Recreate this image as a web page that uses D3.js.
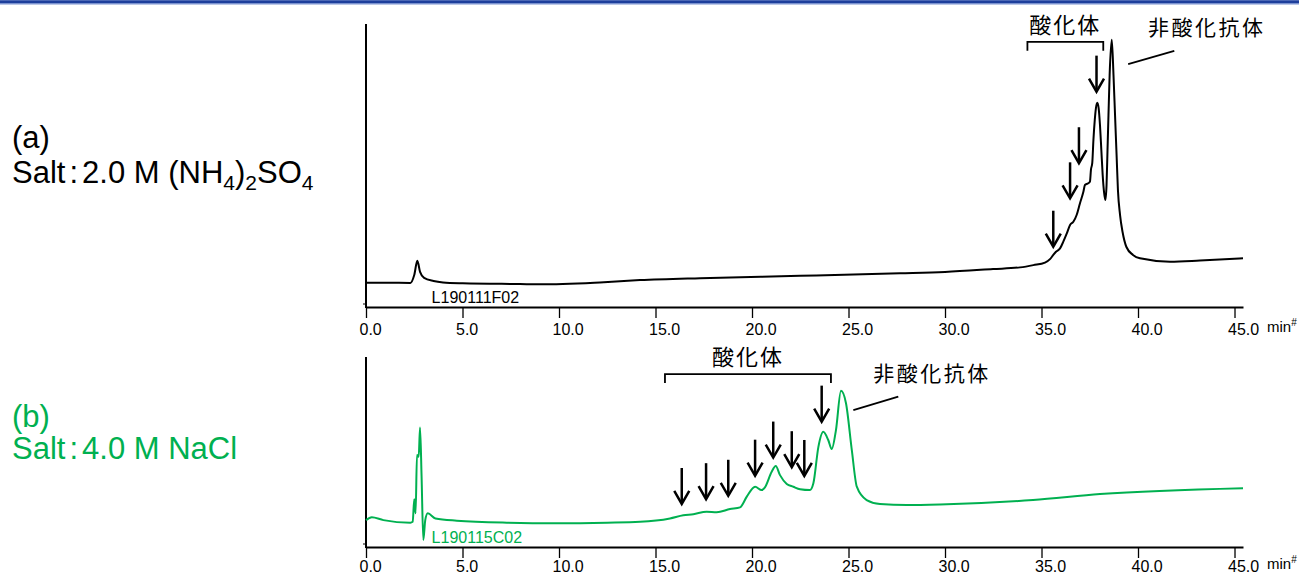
<!DOCTYPE html>
<html>
<head>
<meta charset="utf-8">
<script src="https://cdn.jsdelivr.net/npm/d3@7"></script>
<style>
  body { margin: 0; background: #fff; }
  svg { display: block; }
</style>
</head>
<body>
<div id="chart"></div>
<script>
// --- Data (time in min, signal in arbitrary units) ---

// (a) Salt: 2.0 M (NH4)2SO4
const timeA = [0, 1.5, 2.3, 2.5, 2.66, 2.8, 3.01, 3.5, 3.99, 5.01,
  7.98, 9.02, 12.12, 14.2, 17.31, 22.49, 27.67, 30.0, 32.49, 33.89,
  34.58, 35.18, 35.44, 35.61, 35.75, 35.96, 36.13, 36.31, 36.48, 36.65,
  36.82, 36.99, 37.17, 37.25, 37.42, 37.51, 37.56, 37.63, 37.69, 37.76,
  37.82, 37.89, 37.96, 38.03, 38.10, 38.17, 38.24, 38.31, 38.37, 38.42,
  38.47, 38.53, 38.64, 38.73, 38.81, 38.89, 38.96, 39.07, 39.20, 39.40,
  39.74, 40.10, 41.66, 43.21, 45.44];
const signalA = [8.6, 8.55, 8.5, 11.3, 16.3, 12.4, 10.3, 9.2, 8.7, 8.4,
  8.1, 8.0, 8.7, 9.5, 10.2, 11.0, 11.9, 12.4, 13.4, 14.0,
  14.8, 15.7, 16.9, 18.4, 19.5, 20.7, 23.1, 26.0, 29.0, 30.1,
  32.5, 36.6, 40.7, 43.1, 43.7, 44.3, 48.4, 50.9, 59.0, 66.1,
  70.3, 72.2, 70.3, 64.3, 55.5, 46.6, 40.6, 37.8, 43.1, 55.5,
  67.8, 82.0, 94.4, 82.0, 67.8, 53.7, 41.3, 32.5, 26.5, 21.2,
  18.4, 17.2, 16.0, 16.4, 17.2];

// (b) Salt: 4.0 M NaCl
const timeB = [0, 0.30, 0.90, 2.30, 2.42, 2.50, 2.57, 2.64, 2.73, 2.80,
  2.88, 2.97, 3.07, 3.20, 3.60, 4.70, 7.30, 9.90, 12.49, 14.20,
  15.75, 16.44, 16.96, 17.65, 18.17, 18.86, 19.38, 19.73, 20.16, 20.50,
  20.67, 21.02, 21.23, 21.45, 21.80, 22.14, 22.49, 23.00, 23.18, 23.44,
  23.69, 23.95, 24.13, 24.35, 24.61, 24.87, 25.17, 25.43, 25.94, 26.63,
  28.02, 29.74, 34.56, 38.03, 45.44];
const signalB = [9.5, 10.5, 9.5, 8.6, 8.9, 16.9, 11.9, 32.5, 31.9, 42.2,
  24.8, 2.5, 9.5, 11.9, 10.1, 9.3, 8.6, 8.4, 8.6, 8.9,
  10.1, 11.2, 11.6, 12.5, 12.3, 13.4, 14.0, 17.8, 21.3, 20.1,
  21.1, 26.6, 28.6, 25.4, 22.3, 21.3, 20.4, 20.1, 22.5, 35.4,
  40.7, 37.8, 34.6, 41.3, 55.2, 50.8, 34.3, 21.3, 16.6, 15.2,
  14.8, 15.0, 16.6, 18.7, 20.8];

// Arrows marking oxidized variants (time, signal at arrow tip)
const arrowTimeA = [35.61, 36.48, 36.94, 37.85];
const arrowTipA = [21.3, 38.4, 50.8, 76.1];
const arrowTimeB = [16.36, 17.62, 18.77, 20.16, 21.10, 22.06, 22.71, 23.61];
const arrowTipB = [15.2, 16.9, 18.1, 25.2, 31.6, 28.2, 25.1, 44.3];

// Bracket for 酸化体 ([start, end] time, level)
const bracketA = [34.27, 38.2, 93.7];
const bracketB = [15.49, 24.09, 61.1];

// 非酸化抗体 leader lines [t1, v1, t2, v2] and label anchor [t, v]
const leaderA = [39.49, 85.8, 41.88, 90.5];
const leaderB = [25.25, 48.4, 27.58, 53.1];
const mainLabelA = [40.52, 96.1];
const mainLabelB = [26.28, 58.7];

const xTicks = [0, 5, 10, 15, 20, 25, 30, 35, 40, 45];
const sampleNames = ['L190111F02', 'L190115C02'];
const oxLabel = '酸化体';
const mainLabel = '非酸化抗体';

// --- Layout ---
const W = 1299, H = 576;
const GREEN = '#00b050';
const LATIN = '"Liberation Sans", Arial, sans-serif';
const CJK = '"Noto Sans CJK JP", "Noto Sans CJK SC", sans-serif';

const svg = d3.select('#chart').append('svg')
  .attr('width', W).attr('height', H)
  .style('font-family', LATIN);

// header rule
svg.append('rect').attr('x', 0).attr('y', 0).attr('width', W).attr('height', 4.5).attr('fill', '#7b92cf');
svg.append('rect').attr('x', 0).attr('y', 0.5).attr('width', W).attr('height', 2.5).attr('fill', '#1e3f9c');

const x = d3.scaleLinear().domain([0, 45.44]).range([366, 1243]);

const panels = [
  { time: timeA, signal: signalA, color: '#000', textColor: '#000',
    y: d3.scaleLinear().domain([0, 100]).range([307, 24]), yMax: 100, labelY: 28,
    arrows: d3.zip(arrowTimeA, arrowTipA), bracket: bracketA, leader: leaderA, label: mainLabelA,
    sample: sampleNames[0], capY: [148, 183] },
  { time: timeB, signal: signalB, color: GREEN, textColor: GREEN,
    y: d3.scaleLinear().domain([0, 100]).range([547, 264]), yMax: 67.1, labelY: 25,
    arrows: d3.zip(arrowTimeB, arrowTipB), bracket: bracketB, leader: leaderB, label: mainLabelB,
    sample: sampleNames[1], capY: [427, 459] }
];

const line = d3.line().curve(d3.curveMonotoneX);

panels.forEach((p, i) => {
  const g = svg.append('g');
  const y0 = p.y(0);

  // x axis
  const ax = g.append('g')
    .attr('transform', `translate(0,${y0})`)
    .call(d3.axisBottom(x).tickValues(xTicks).tickFormat(d3.format('.1f')).tickSize(11).tickSizeOuter(0));
  ax.select('.domain').attr('stroke', '#000').attr('stroke-width', 2);
  ax.selectAll('.tick line').attr('stroke', '#000').attr('stroke-width', 1.3);
  ax.selectAll('.tick text')
    .attr('font-family', LATIN).attr('font-size', 16).attr('fill', '#000')
    .attr('text-anchor', 'start').attr('x', -7).attr('y', p.labelY).attr('dy', 0);

  // y axis (no labels)
  g.append('line').attr('x1', x(0)).attr('x2', x(0))
    .attr('y1', p.y(p.yMax)).attr('y2', y0 + 1)
    .attr('stroke', '#000').attr('stroke-width', 2);
  g.append('line').attr('x1', x(0) - 3).attr('x2', x(0))
    .attr('y1', y0 - 3).attr('y2', y0 - 3)
    .attr('stroke', '#000').attr('stroke-width', 1);

  // unit
  const unit = g.append('text').attr('x', 1267).attr('y', y0 + p.labelY - 3)
    .attr('font-size', 15).attr('fill', '#000');
  unit.append('tspan').text('min');
  unit.append('tspan').attr('font-size', 10).attr('dy', -6).text('#');

  // trace
  g.append('path')
    .attr('d', line(d3.zip(p.time, p.signal).map(d => [x(d[0]), p.y(d[1])])))
    .attr('fill', 'none').attr('stroke', p.color).attr('stroke-width', 2)
    .attr('stroke-linejoin', 'round');

  // sample name
  g.append('text').attr('x', x(3.4)).attr('y', y0 - 4)
    .attr('font-size', 16).attr('fill', p.textColor).text(p.sample);

  // arrows
  p.arrows.forEach(([t, v]) => {
    const cx = x(t), tip = p.y(v);
    g.append('line').attr('x1', cx).attr('x2', cx).attr('y1', tip - 36).attr('y2', tip - 1.5)
      .attr('stroke', '#000').attr('stroke-width', 2.5);
    g.append('path').attr('d', `M${cx - 7.5},${tip - 13}L${cx},${tip}L${cx + 7.5},${tip - 13}`)
      .attr('fill', 'none').attr('stroke', '#000').attr('stroke-width', 2.5);
  });

  // bracket + 酸化体
  const [b1, b2, bv] = p.bracket;
  const by = p.y(bv);
  g.append('path').attr('d', `M${x(b1)},${by + 9}V${by}H${x(b2)}V${by + 9}`)
    .attr('fill', 'none').attr('stroke', '#000').attr('stroke-width', 1.8);
  g.append('text').attr('x', (x(b1) + x(b2)) / 2).attr('y', by - 9)
    .attr('text-anchor', 'middle').attr('font-family', CJK)
    .attr('font-size', 22).attr('letter-spacing', 2).text(oxLabel);

  // 非酸化抗体 label + leader
  const [l1, v1, l2, v2] = p.leader;
  g.append('line').attr('x1', x(l1)).attr('y1', p.y(v1)).attr('x2', x(l2)).attr('y2', p.y(v2))
    .attr('stroke', '#000').attr('stroke-width', 1.8);
  g.append('text').attr('x', x(p.label[0])).attr('y', p.y(p.label[1]))
    .attr('font-family', CJK).attr('font-size', 21).attr('letter-spacing', 2.5).text(mainLabel);

  // caption on the left
  g.append('text').attr('x', 12).attr('y', p.capY[0])
    .attr('font-size', 31).attr('fill', p.textColor).text(i === 0 ? '(a)' : '(b)');
  const cap2 = g.append('text').attr('x', 12).attr('y', p.capY[1])
    .attr('font-size', 31).attr('fill', p.textColor);
  cap2.append('tspan').text('Salt');
  cap2.append('tspan').attr('dx', 4).text(':');
  if (i === 0) {
    cap2.append('tspan').attr('dx', 4).text('2.0 M (NH');
    cap2.append('tspan').attr('font-size', 21).attr('dy', 7).text('4');
    cap2.append('tspan').attr('dy', -7).text(')');
    cap2.append('tspan').attr('font-size', 21).attr('dy', 7).text('2');
    cap2.append('tspan').attr('dy', -7).text('SO');
    cap2.append('tspan').attr('font-size', 21).attr('dy', 7).text('4');
  } else {
    cap2.append('tspan').attr('dx', 4).text('4.0 M NaCl');
  }
});
</script>
</body>
</html>
